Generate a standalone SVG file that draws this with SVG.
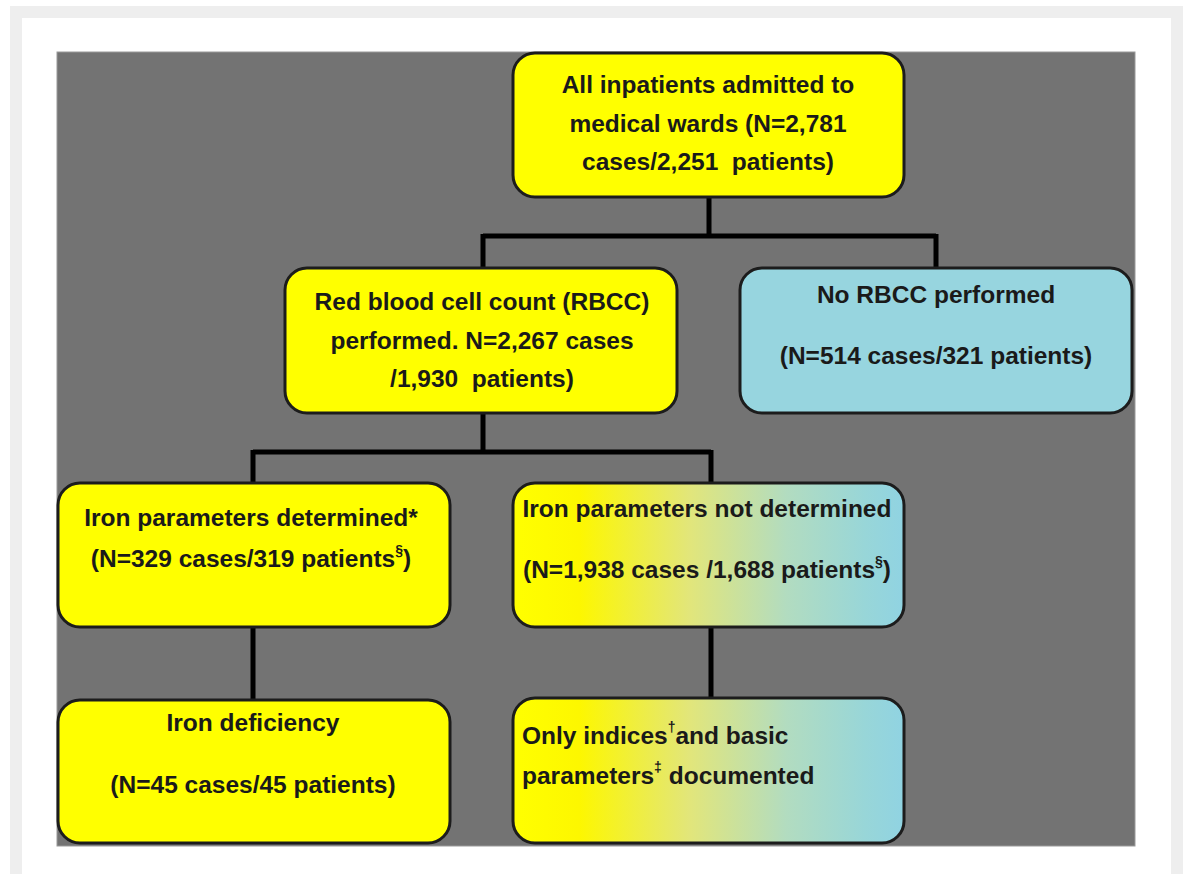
<svg xmlns="http://www.w3.org/2000/svg" width="1188" height="874" viewBox="0 0 1188 874">
<defs>
<style>
.box{stroke:#1c1c1c;stroke-width:3}
.y{fill:#ffff00}
.b{fill:#97d5df}
.t{font-family:"Liberation Sans",Arial,sans-serif;font-weight:bold;font-size:24.5px;fill:#1a1a1a}
.c{text-anchor:middle}
.sup{font-size:14px}
.conn{stroke:#000;stroke-width:5;fill:none}
</style>
<linearGradient id="yb" x1="0" y1="0" x2="1" y2="0">
<stop offset="0" stop-color="#ffff00"/>
<stop offset="0.17" stop-color="#fdf700"/>
<stop offset="0.45" stop-color="#e2e67a"/>
<stop offset="0.7" stop-color="#b2dcc0"/>
<stop offset="0.9" stop-color="#98d6d8"/>
<stop offset="1" stop-color="#90d3e2"/>
</linearGradient>
</defs>
<rect x="0" y="0" width="1188" height="874" fill="#ffffff"/>
<rect x="10" y="6" width="1173" height="880" fill="#eeeeee"/>
<rect x="22" y="18" width="1149" height="870" fill="#ffffff"/>
<rect x="57" y="52" width="1078" height="794" fill="#737373" stroke="#9a9a9a" stroke-width="1"/>
<g id="connectors">
<path class="conn" d="M709 197 V236 M483 236 H936 M483 234 V268 M936 234 V268"/>
<path class="conn" d="M483 413 V452 M253 452 H711 M253 450 V483 M711 450 V483"/>
<path class="conn" d="M253 627 V700"/>
<path class="conn" d="M711 627 V698"/>
</g>
<g id="n1">
<rect class="box y" x="513" y="53" width="391" height="144" rx="22"/>
<text class="t c" x="708" y="93">All inpatients admitted to</text>
<text class="t c" x="708" y="132">medical wards (N=2,781</text>
<text class="t c" x="708" y="170" xml:space="preserve">cases/2,251  patients)</text>
</g>
<g id="n2">
<rect class="box y" x="285" y="268" width="392" height="145" rx="22"/>
<text class="t c" x="482" y="310">Red blood cell count (RBCC)</text>
<text class="t c" x="482" y="349">performed. N=2,267 cases</text>
<text class="t c" x="482" y="387" xml:space="preserve">/1,930  patients)</text>
</g>
<g id="n3">
<rect class="box b" x="740" y="268" width="392" height="145" rx="22"/>
<text class="t c" x="936" y="303">No RBCC performed</text>
<text class="t c" x="936" y="364">(N=514 cases/321 patients)</text>
</g>
<g id="n4">
<rect class="box y" x="58" y="483" width="392" height="144" rx="22"/>
<text class="t c" x="251" y="526">Iron parameters determined*</text>
<text class="t c" x="251" y="567">(N=329 cases/319 patients<tspan class="sup" dy="-12">§</tspan><tspan dy="12">)</tspan></text>
</g>
<g id="n5">
<rect class="box" fill="url(#yb)" x="513" y="483" width="391" height="144" rx="22"/>
<text class="t c" x="707" y="517">Iron parameters not determined</text>
<text class="t c" x="707" y="578">(N=1,938 cases /1,688 patients<tspan class="sup" dy="-12">§</tspan><tspan dy="12">)</tspan></text>
</g>
<g id="n6">
<rect class="box y" x="58" y="700" width="392" height="143" rx="22"/>
<text class="t c" x="253" y="731">Iron deficiency</text>
<text class="t c" x="253" y="793">(N=45 cases/45 patients)</text>
</g>
<g id="n7">
<rect class="box" fill="url(#yb)" x="513" y="698" width="391" height="145" rx="22"/>
<text class="t" x="522" y="744">Only indices<tspan class="sup" dy="-12">†</tspan><tspan dy="12">and basic</tspan></text>
<text class="t" x="522" y="784">parameters<tspan class="sup" dy="-12">‡</tspan><tspan dy="12"> documented</tspan></text>
</g>
</svg>
